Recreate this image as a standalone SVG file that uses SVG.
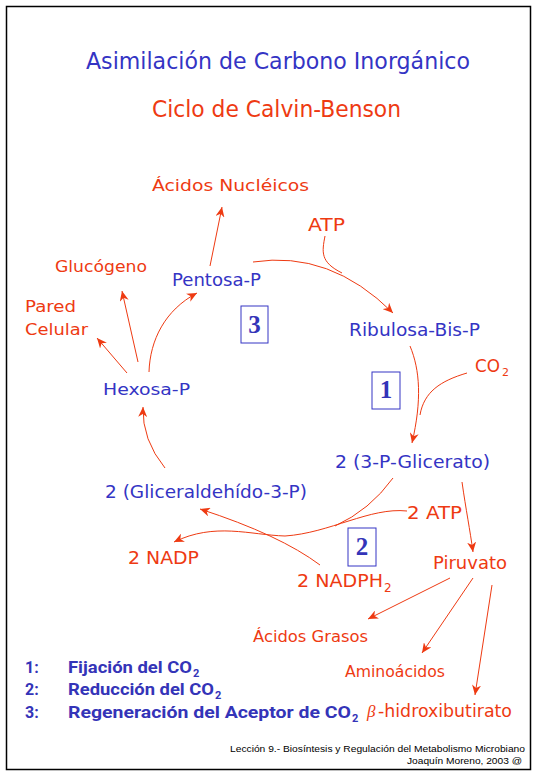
<svg xmlns="http://www.w3.org/2000/svg" width="540" height="780" viewBox="0 0 540 780">
<style>
text{font-family:"DejaVu Sans","Liberation Sans",sans-serif}
.b{fill:#3434C4}
.r{fill:#EE3A12}
.lg{fill:#3434B8;font-family:Roboto,"Liberation Sans",sans-serif;font-weight:bold;font-size:16px}
.box{fill:none;stroke:#3434C4;stroke-width:1}
.num{font-family:"Liberation Serif","DejaVu Serif",serif;font-weight:bold;font-size:25px;fill:#3434B8}
.c{fill:none;stroke:#EE3A12;stroke-width:1}
.a{marker-end:url(#ah)}
.ft{font-family:"Liberation Sans",Arial,sans-serif;font-size:9.5px;fill:#000}
</style>
<defs>
<marker id="ah" markerUnits="userSpaceOnUse" markerWidth="11" markerHeight="9" refX="10" refY="4.5" orient="auto">
<path d="M0,0 L10,4.5 L0,9 L3,4.5 z" fill="#EE3A12"/>
</marker>
</defs>
<rect x="0" y="0" width="540" height="780" fill="#fff"/>
<rect x="6.5" y="6.5" width="524" height="763" fill="none" stroke="#000" stroke-width="1.5"/>

<g id="title">
<text class="b" x="86" y="69" font-size="23" textLength="384" lengthAdjust="spacingAndGlyphs">Asimilación de Carbono Inorgánico</text>
<text class="r" x="152" y="117" font-size="23" textLength="249" lengthAdjust="spacingAndGlyphs">Ciclo de Calvin-Benson</text>
</g>

<g id="connectors">
<path class="c a" d="M210,266 L222,207"/>
<path class="c a" d="M138,362 L122,291"/>
<path class="c a" d="M127,373 L97,338"/>
<path class="c a" d="M149,372 C150,340 165,310 197,293"/>
<path class="c a" d="M165,468 Q142,440 143,407"/>
<path class="c a" d="M410,346 C420,370 422,400 412,443"/>
<path class="c" d="M467,373 C440,381 424,392 420,415"/>
<path class="c a" d="M253,262 Q330,250 393,313"/>
<path class="c" d="M325,236 C322,252 320,262 342,273"/>
<path class="c" d="M393,478 Q370,510 335,526"/>
<path class="c a" d="M407,511 C370,507 330,533 285,536 C250,535 215,522 174,542"/>
<path class="c a" d="M320,565 Q280,535 200,509"/>
<path class="c a" d="M462,482 C466,510 470,530 473,552"/>
<path class="c a" d="M450,578 L368,619"/>
<path class="c a" d="M473,578 L422,653"/>
<path class="c a" d="M492,585 L475,695"/>
</g>

<g id="acidos-nucleicos"><text class="r" x="152" y="191" font-size="16" textLength="157" lengthAdjust="spacingAndGlyphs">Ácidos Nucléicos</text></g>
<g id="atp-top"><text class="r" x="308" y="231" font-size="18" textLength="37" lengthAdjust="spacingAndGlyphs">ATP</text></g>
<g id="glucogeno"><text class="r" x="55" y="272" font-size="16" textLength="92" lengthAdjust="spacingAndGlyphs">Glucógeno</text></g>
<g id="pentosa-p"><text class="b" x="172" y="286" font-size="17" textLength="89" lengthAdjust="spacingAndGlyphs">Pentosa-P</text></g>
<g id="pared-celular">
<text class="r" x="25" y="312" font-size="16" textLength="51" lengthAdjust="spacingAndGlyphs">Pared</text>
<text class="r" x="25" y="335" font-size="16" textLength="63" lengthAdjust="spacingAndGlyphs">Celular</text>
</g>
<g id="box3"><rect class="box" x="241" y="306" width="27" height="37"/><text class="num" x="254.5" y="333" text-anchor="middle">3</text></g>
<g id="ribulosa"><text class="b" x="349" y="336" font-size="17" textLength="131" lengthAdjust="spacingAndGlyphs">Ribulosa-Bis-P</text></g>
<g id="co2"><text class="r" x="475" y="372" font-size="17"><tspan textLength="25" lengthAdjust="spacingAndGlyphs">CO</tspan><tspan x="502" y="376" font-size="11">2</tspan></text></g>
<g id="box1"><rect class="box" x="372" y="372" width="28" height="37"/><text class="num" x="386" y="398" text-anchor="middle">1</text></g>
<g id="hexosa-p"><text class="b" x="103" y="395" font-size="16" textLength="87" lengthAdjust="spacingAndGlyphs">Hexosa-P</text></g>
<g id="glicerato"><text class="b" x="335" y="468" font-size="17" textLength="155" lengthAdjust="spacingAndGlyphs">2 (3-P-Glicerato)</text></g>
<g id="gliceraldehido"><text class="b" x="105" y="498" font-size="17" textLength="202" lengthAdjust="spacingAndGlyphs">2 (Gliceraldehído-3-P)</text></g>
<g id="atp-2"><text class="r" x="407" y="519" font-size="18" textLength="55" lengthAdjust="spacingAndGlyphs">2 ATP</text></g>
<g id="box2"><rect class="box" x="348" y="528" width="28" height="38"/><text class="num" x="362" y="555" text-anchor="middle">2</text></g>
<g id="nadp"><text class="r" x="128" y="564" font-size="18" textLength="71" lengthAdjust="spacingAndGlyphs">2 NADP</text></g>
<g id="piruvato"><text class="r" x="433" y="569" font-size="17" textLength="74" lengthAdjust="spacingAndGlyphs">Piruvato</text></g>
<g id="nadph2"><text class="r" x="297" y="587" font-size="18"><tspan textLength="86" lengthAdjust="spacingAndGlyphs">2 NADPH</tspan><tspan x="384" y="592" font-size="12">2</tspan></text></g>
<g id="acidos-grasos"><text class="r" x="253" y="642" font-size="16" textLength="115" lengthAdjust="spacingAndGlyphs">Ácidos Grasos</text></g>
<g id="aminoacidos"><text class="r" x="345" y="677" font-size="16" textLength="100" lengthAdjust="spacingAndGlyphs">Aminoácidos</text></g>
<g id="hidroxibutirato"><text class="r" x="367" y="717" font-size="17"><tspan font-family="Liberation Serif, serif" font-style="italic">β</tspan><tspan x="378" textLength="134" lengthAdjust="spacingAndGlyphs">-hidroxibutirato</tspan></text></g>

<g id="legend">
<text class="lg" x="25" y="673">1:</text>
<text class="lg" x="68" y="673"><tspan textLength="124" lengthAdjust="spacingAndGlyphs">Fijación del CO</tspan><tspan x="193" y="677" font-size="11">2</tspan></text>
<text class="lg" x="25" y="695">2:</text>
<text class="lg" x="68" y="695"><tspan textLength="146" lengthAdjust="spacingAndGlyphs">Reducción del CO</tspan><tspan x="215" y="699" font-size="11">2</tspan></text>
<text class="lg" x="25" y="718">3:</text>
<text class="lg" x="68" y="718"><tspan textLength="283" lengthAdjust="spacingAndGlyphs">Regeneración del Aceptor de CO</tspan><tspan x="352" y="722" font-size="11">2</tspan></text>
</g>

<g id="footer">
<text class="ft" x="230" y="752" textLength="295" lengthAdjust="spacingAndGlyphs">Lección 9.- Biosíntesis y Regulación del Metabolismo Microbiano</text>
<text class="ft" x="407" y="764" textLength="115" lengthAdjust="spacingAndGlyphs">Joaquín Moreno, 2003 @</text>
</g>
</svg>
